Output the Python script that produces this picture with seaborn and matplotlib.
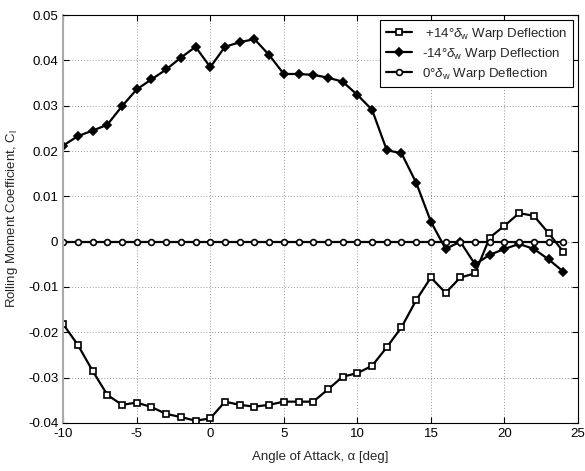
import numpy as np
import pandas as pd
import matplotlib
matplotlib.use("Agg")
import matplotlib.pyplot as plt
import seaborn as sns

# angle of attack [deg]
alpha = list(range(-10, 25))

# rolling moment coefficient
cl_pos14 = [-0.0182, -0.0228, -0.0285, -0.0338, -0.0360, -0.0355, -0.0365, -0.0380,
            -0.0387, -0.0395, -0.0390, -0.0353, -0.0360, -0.0364, -0.0360, -0.0353,
            -0.0353, -0.0353, -0.0326, -0.0298, -0.0290, -0.0274, -0.0233, -0.0189,
            -0.0129, -0.0079, -0.0113, -0.0079, -0.0070, 0.0009, 0.0035, 0.0063,
            0.0057, 0.0019, -0.0022]
cl_neg14 = [0.0212, 0.0233, 0.0245, 0.0258, 0.0299, 0.0336, 0.0358, 0.0380,
            0.0406, 0.0430, 0.0385, 0.0430, 0.0440, 0.0447, 0.0412, 0.0370,
            0.0370, 0.0368, 0.0362, 0.0353, 0.0324, 0.0291, 0.0202, 0.0195,
            0.0130, 0.0044, -0.0016, 0.0000, -0.0050, -0.0029, -0.0016, -0.0005,
            -0.0016, -0.0039, -0.0066]
cl_zero = [0.0] * len(alpha)

series_labels = [r" +14°$\delta_{\rm w}$ Warp Deflection",
                 r"-14°$\delta_{\rm w}$ Warp Deflection",
                 r"0°$\delta_{\rm w}$ Warp Deflection"]

xticks = [-10, -5, 0, 5, 10, 15, 20, 25]
yticks = [-0.04, -0.03, -0.02, -0.01, 0, 0.01, 0.02, 0.03, 0.04, 0.05]
ytick_labels = ["-0.04", "-0.03", "-0.02", "-0.01", "0", "0.01", "0.02", "0.03", "0.04", "0.05"]

sns.set_style("ticks")
plt.rcParams["font.family"] = ["Liberation Sans", "DejaVu Sans"]
plt.rcParams["axes.unicode_minus"] = False
plt.rcParams["mathtext.fontset"] = "custom"
plt.rcParams["mathtext.rm"] = "Liberation Sans"
plt.rcParams["mathtext.it"] = "Liberation Sans:italic"

df = pd.DataFrame({
    "alpha": alpha * 3,
    "cl": cl_pos14 + cl_neg14 + cl_zero,
    "series": [series_labels[0]] * len(alpha) + [series_labels[1]] * len(alpha)
              + [series_labels[2]] * len(alpha),
})

fig = plt.figure(figsize=(5.85, 4.71), dpi=100)
ax = fig.add_axes([0.108, 0.102, 0.880, 0.866])

markers = {series_labels[0]: "s", series_labels[1]: "D", series_labels[2]: "o"}
for lab in series_labels:
    sub = df[df["series"] == lab]
    m = markers[lab]
    sns.lineplot(data=sub, x="alpha", y="cl", ax=ax, color="black", linewidth=1.6,
                 marker=m, markersize=4.2 if m != "D" else 3.8,
                 markerfacecolor="black" if m == "D" else "white",
                 markeredgecolor="black", markeredgewidth=1.2, label=lab)

ax.set_xlim(-10, 25)
ax.set_ylim(-0.04, 0.05)
ax.set_xticks(xticks)
ax.set_yticks(yticks)
ax.set_yticklabels(ytick_labels)
ax.grid(True, linestyle=(0, (1, 2)), color="#999999", linewidth=0.7)
ax.tick_params(direction="in", labelsize=9.5, length=4, colors="black",
               top=True, right=True)
for s in ax.spines.values():
    s.set_visible(True)
    s.set_color("black")
    s.set_linewidth(0.8)
ax.spines["left"].set_color("#aaaaaa")
ax.spines["left"].set_linewidth(1.5)

ax.set_xlabel("Angle of Attack, α [deg]", fontsize=9.5, labelpad=8)
ax.set_ylabel(r"Rolling Moment Coefficient, C$_{\rm l}$", fontsize=9.5, labelpad=6)

leg = ax.legend(loc="upper right", fontsize=9.5, frameon=True, fancybox=False,
                edgecolor="black", framealpha=1, handlelength=2.0,
                borderaxespad=0.4, labelspacing=0.3)
leg.get_frame().set_linewidth(0.8)

fig.savefig("out.png", dpi=100)
